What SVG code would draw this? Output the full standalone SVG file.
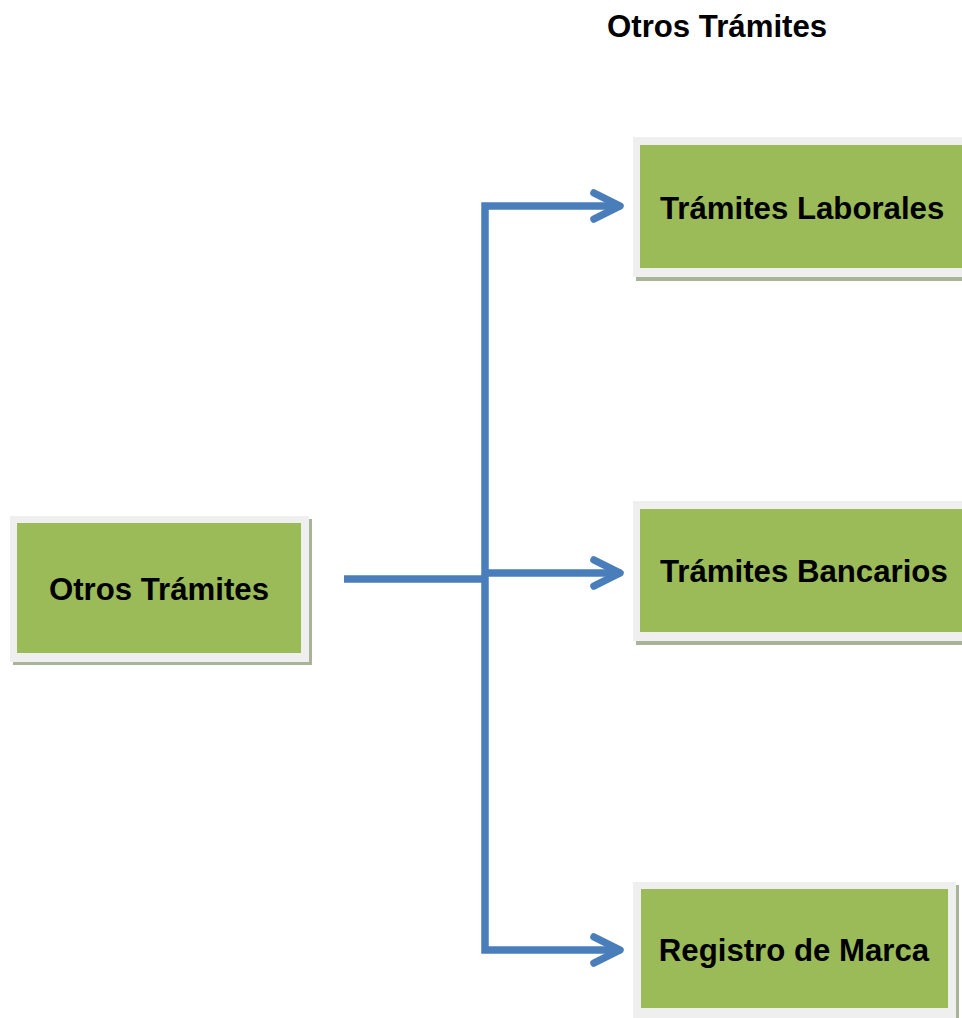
<svg xmlns="http://www.w3.org/2000/svg" width="962" height="1018" viewBox="0 0 962 1018">
<defs>
<style>
.frame{fill:#EFEFEF}
.shadow{fill:#A9B398}
.box{fill:#9BBB59}
.lbl{font-family:"Liberation Sans",Arial,sans-serif;font-weight:bold;font-size:31.2px;fill:#000}
.conn{fill:none;stroke:#4A7EBB;stroke-width:7.5}
.head{fill:none;stroke:#4A7EBB;stroke-width:7.5;stroke-linecap:round;stroke-linejoin:round}
</style>
</defs>
<rect width="962" height="1018" fill="#FFFFFF"/>
<text class="lbl" x="607" y="37">Otros Trámites</text>
<g id="connectors">
<path class="conn" d="M344,579 H485"/>
<path class="conn" d="M621,206 H485 V950 H621"/>
<path class="conn" d="M485,573 H621"/>
<path class="head" d="M594,193 L620,206 L594,219"/>
<path class="head" d="M594,560 L620,573 L594,586"/>
<path class="head" d="M594,937 L620,950 L594,963"/>
</g>
<g id="node-otros">
<rect class="shadow" x="13" y="519" width="299" height="146"/>
<rect class="frame" x="10" y="516" width="299" height="146"/>
<rect class="box" x="17" y="523" width="284" height="130"/>
<text class="lbl" x="159" y="600" text-anchor="middle">Otros Trámites</text>
</g>
<g id="node-laborales">
<rect class="shadow" x="636" y="140" width="340" height="141"/>
<rect class="frame" x="633" y="137" width="340" height="140"/>
<rect class="box" x="640" y="145" width="330" height="123"/>
<text class="lbl" x="660" y="219">Trámites Laborales</text>
</g>
<g id="node-bancarios">
<rect class="shadow" x="636" y="504" width="340" height="141"/>
<rect class="frame" x="633" y="501" width="340" height="140"/>
<rect class="box" x="640" y="509" width="330" height="123"/>
<text class="lbl" x="660" y="582">Trámites Bancarios</text>
</g>
<g id="node-marca">
<rect class="shadow" x="636" y="885" width="323" height="136"/>
<rect class="frame" x="633" y="882" width="323" height="136"/>
<rect class="box" x="641" y="889" width="307" height="119"/>
<text class="lbl" x="794" y="961" text-anchor="middle">Registro de Marca</text>
</g>
</svg>
